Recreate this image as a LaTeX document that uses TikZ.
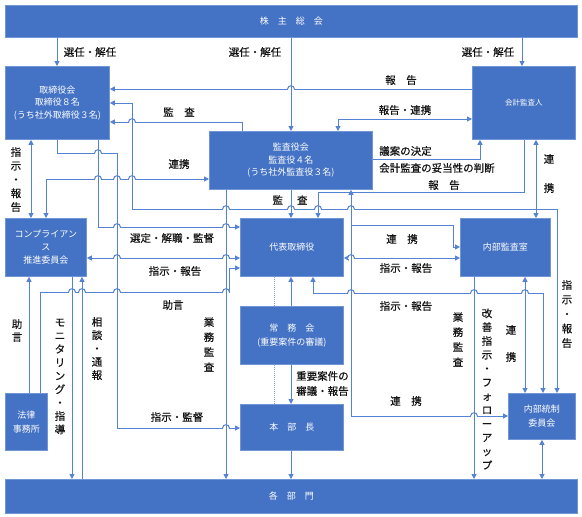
\documentclass[tikz,border=0pt]{standalone}
\usepackage{fontspec}
\setmainfont{Noto Sans CJK JP}
\newfontfamily\labfont{Noto Sans CJK JP}[FakeBold=0.5]
\usetikzlibrary{arrows.meta}
\definecolor{boxblue}{RGB}{68,114,196}
\definecolor{boxedge}{RGB}{112,150,214}
\definecolor{linec}{RGB}{84,130,212}
\definecolor{labc}{RGB}{20,20,20}
\tikzset{
  bx/.style={draw=boxedge, line width=0.8pt, fill=boxblue, text=white, inner sep=0pt,
             anchor=north west, align=center, font=\fontsize{9}{12.5}\selectfont},
  ln/.style={draw=linec, line width=1pt},
  ar/.style={ln, -{Triangle[length=5pt,width=5pt]}},
  artwo/.style={ln, {Triangle[length=5pt,width=5pt]}-{Triangle[length=5pt,width=5pt]}},
  lab/.style={text=labc, inner sep=0pt, font=\labfont\fontsize{10.5}{15}\selectfont},
  vlab/.style={text=labc, inner sep=0pt, align=center},
}
\newcommand{\myhop}[2]{%
  \fill[white] (#1-3.4,#2-1.2) rectangle (#1+3.4,#2+1.2);
  \draw[ln] (#1,#2-4) -- (#1,#2+4);
  \draw[ln] (#1-3.4,#2) .. controls (#1-3.4,#2-4.4) and (#1+3.4,#2-4.4) .. (#1+3.4,#2);
}
\begin{document}
\begin{tikzpicture}[x=1pt,y=-1pt]
\useasboundingbox (0,0) rectangle (582,517);
\fill[white] (0,0) rectangle (582,517);

% boxes
\node[bx, minimum width=572pt, minimum height=32pt] (sh) at (5,5) {株　主　総　会};
\node[bx, minimum width=104pt, minimum height=73pt] (tb) at (5,66) {取締役会\\取締役８名\\(うち社外取締役３名)};
\node[bx, minimum width=103pt, minimum height=73pt, font=\fontsize{7.5}{10}\selectfont] (ka) at (472,66) {会計監査人};
\node[bx, minimum width=163pt, minimum height=58pt] (ks) at (209,131) {監査役会\\監査役４名\\(うち社外監査役３名)};
\node[bx, minimum width=81pt, minimum height=58pt, font=\fontsize{9}{13}\selectfont] (cp) at (5,218) {コンプライアン\\ス\\推進委員会};
\node[bx, minimum width=103pt, minimum height=58pt] (dt) at (240,218) {代表取締役};
\node[bx, minimum width=90pt, minimum height=58pt] (na) at (460,218) {内部監査室};
\node[bx, minimum width=103pt, minimum height=58pt, font=\fontsize{9}{14}\selectfont] (jm) at (240,306) {常　務　会\\(重要案件の審議)};
\node[bx, minimum width=103pt, minimum height=46pt] (hb) at (240,404) {本　部　長};
\node[bx, minimum width=42pt, minimum height=57pt, font=\fontsize{9}{14}\selectfont] (hr) at (5,393) {法律\\事務所};
\node[bx, minimum width=67pt, minimum height=46pt, font=\fontsize{9}{14}\selectfont] (nt) at (508,393) {内部統制\\委員会};
\node[bx, minimum width=572pt, minimum height=34pt] (kb) at (5,479) {各　部　門};

% connectors
\draw[ar] (sh.south -| 57,0) -- (tb.north -| 57,0);
\draw[ar] (sh.south -| 291,0) -- (ks.north -| 291,0);
\draw[ar] (sh.south -| 522,0) -- (ka.north -| 522,0);
\draw[ar] (ka.west |- 0,89) -- (tb.east |- 0,89);
\draw[ar] (ks.north -| 242,0) -- (242,122) -- (tb.east |- 0,122);
\draw[artwo] (tb.east |- 0,103) -- (132,103) -- (132,209) -- (557,209) -- (nt.north -| 557,0);
\draw[artwo] (ks.north -| 338,0) -- (338,119) -- (ka.west |- 0,119);
\draw[ar] (ks.east |- 0,159) -- (480,159) -- (ka.south -| 480,0);
\draw[ar] (ka.south -| 524,0) -- (524,192) -- (318,192) -- (dt.north -| 318,0);
\draw[artwo] (ka.south -| 536,0) -- (na.north -| 536,0);
\draw[artwo] (tb.south -| 31,0) -- (cp.north -| 31,0);
\draw[artwo] (cp.north -| 46,0) -- (46,179) -- (ks.west |- 0,179);
\draw[ar] (tb.south -| 98,0) -- (98,227) -- (dt.west |- 0,227);
\draw[ar] (tb.south -| 57,0) -- (57,153) -- (117,153) -- (117,428) -- (hb.west |- 0,428);
\draw[ar] (ks.south -| 291,0) -- (dt.north -| 291,0);
\draw[ar] (ks.south -| 226,0) -- (kb.north -| 226,0);
\draw[artwo] (ks.south -| 351,0) -- (351,225) -- (453,225) -- (453,247) -- (na.west |- 0,247);
\draw[ar] (351,225) -- (351,416) -- (nt.west |- 0,416);
\draw[artwo] (dt.east |- 0,258) -- (na.west |- 0,258);
\draw[artwo] (dt.south -| 313,0) -- (313,293) -- (543,293) -- (nt.north -| 543,0);
\draw[artwo] (na.south -| 525,0) -- (nt.north -| 525,0);
\draw[ar] (na.south -| 474,0) -- (kb.north -| 474,0);
\draw[artwo] (nt.south -| 542,0) -- (kb.north -| 542,0);
\draw[ar] (jm.north -| 291,0) -- (dt.south -| 291,0);
\draw[ar] (jm.south -| 291,0) -- (hb.north -| 291,0);
\draw[ar] (hb.south -| 291,0) -- (kb.north -| 291,0);
\draw[ln, densely dotted, draw=linec!70] (dt.south -| 274,0) -- (jm.north -| 274,0);
\draw[ln, densely dotted, draw=linec!70] (jm.south -| 274,0) -- (hb.north -| 274,0);
\draw[artwo] (cp.east |- 0,258) -- (dt.west |- 0,258);
\draw[ar] (hr.north -| 29,0) -- (cp.south -| 29,0);
\draw[ar] (hr.north -| 40,0) -- (40,292) -- (229,292) -- (229,268) -- (dt.west |- 0,268);
\draw[ar] (cp.south -| 72,0) -- (kb.north -| 72,0);
\draw[ar] (kb.north -| 82,0) -- (cp.south -| 82,0);

% line hops (horizontal over vertical)
\myhop{291}{89}
\myhop{132}{122}
\myhop{98}{153}
\myhop{98}{179}\myhop{117}{179}\myhop{132}{179}
\myhop{226}{209}\myhop{291}{209}\myhop{318}{209}\myhop{351}{209}
\myhop{117}{227}\myhop{226}{227}
\myhop{117}{258}\myhop{226}{258}\myhop{351}{258}
\myhop{72}{292}\myhop{82}{292}\myhop{117}{292}\myhop{226}{292}
\myhop{351}{293}\myhop{474}{293}\myhop{525}{293}
\myhop{226}{428}
\myhop{474}{416}

% horizontal labels
\node[lab] (la1) at (90,52) {選任・解任};
\node[lab] (la2) at (255,52) {選任・解任};
\node[lab] (la3) at (488,52) {選任・解任};
\node[lab] (la4) at (401,80) {報　告};
\node[lab] (la5) at (179,112) {監　査};
\node[lab] (la6) at (405,110) {報告・連携};
\node[lab] (la7) at (179,164) {連携};
\node[lab, anchor=west] (la8) at (379,151) {議案の決定};
\node[lab, anchor=west] (la9) at (379,168) {会計監査の妥当性の判断};
\node[lab] (la10) at (444,185) {報　告};
\node[lab] (la11) at (290,200) {監\hspace{14pt}査};
\node[lab] (la12) at (172,238) {選定・解職・監督};
\node[lab] (la13) at (175,271) {指示・報告};
\node[lab] (la14) at (173,305) {助言};
\node[lab] (la15) at (177,417) {指示・監督};
\node[lab] (la16) at (402,239) {連　携};
\node[lab] (la17) at (406,268) {指示・報告};
\node[lab] (la18) at (406,306) {指示・報告};
\node[lab, anchor=west, align=left] (la19) at (296,383.5) {重要案件の\\審議・報告};
\node[lab] (la20) at (406,401) {連　携};

% vertical labels
\node[vlab, font=\labfont\fontsize{10.5}{13.75}\selectfont] (lv1) at (16,179.5) {指\\示\\・\\報\\告};
\node[vlab, font=\labfont\fontsize{10.5}{13}\selectfont] (lv2) at (17,330.5) {助\\言};
\node[vlab, font=\labfont\fontsize{10.5}{13.4}\selectfont] (lv3) at (60,376.5) {モ\\ニ\\タ\\リ\\ン\\グ\\・\\指\\導};
\node[vlab, font=\labfont\fontsize{10.5}{13.3}\selectfont] (lv4) at (97,348.5) {相\\談\\・\\通\\報};
\node[vlab, font=\labfont\fontsize{10.5}{15}\selectfont] (lv5) at (209,344.5) {業\\務\\監\\査};
\node[vlab, font=\labfont\fontsize{10.5}{15}\selectfont] (lv6) at (458,339.5) {業\\務\\監\\査};
\node[vlab, font=\labfont\fontsize{10.5}{13.8}\selectfont] (lv7) at (487,389) {改\\善\\指\\示\\・\\フ\\ォ\\ロ\\ー\\ア\\ッ\\プ};
\node[vlab, font=\labfont\fontsize{10.5}{13.5}\selectfont] (lv8) at (511,343.5) {連\\　\\携};
\node[vlab, font=\labfont\fontsize{10.5}{14.5}\selectfont] (lv9) at (567,314) {指\\示\\・\\報\\告};
\node[vlab, font=\labfont\fontsize{10.5}{14.5}\selectfont] (lv10) at (549,173.5) {連\\　\\携};
\end{tikzpicture}
\end{document}
